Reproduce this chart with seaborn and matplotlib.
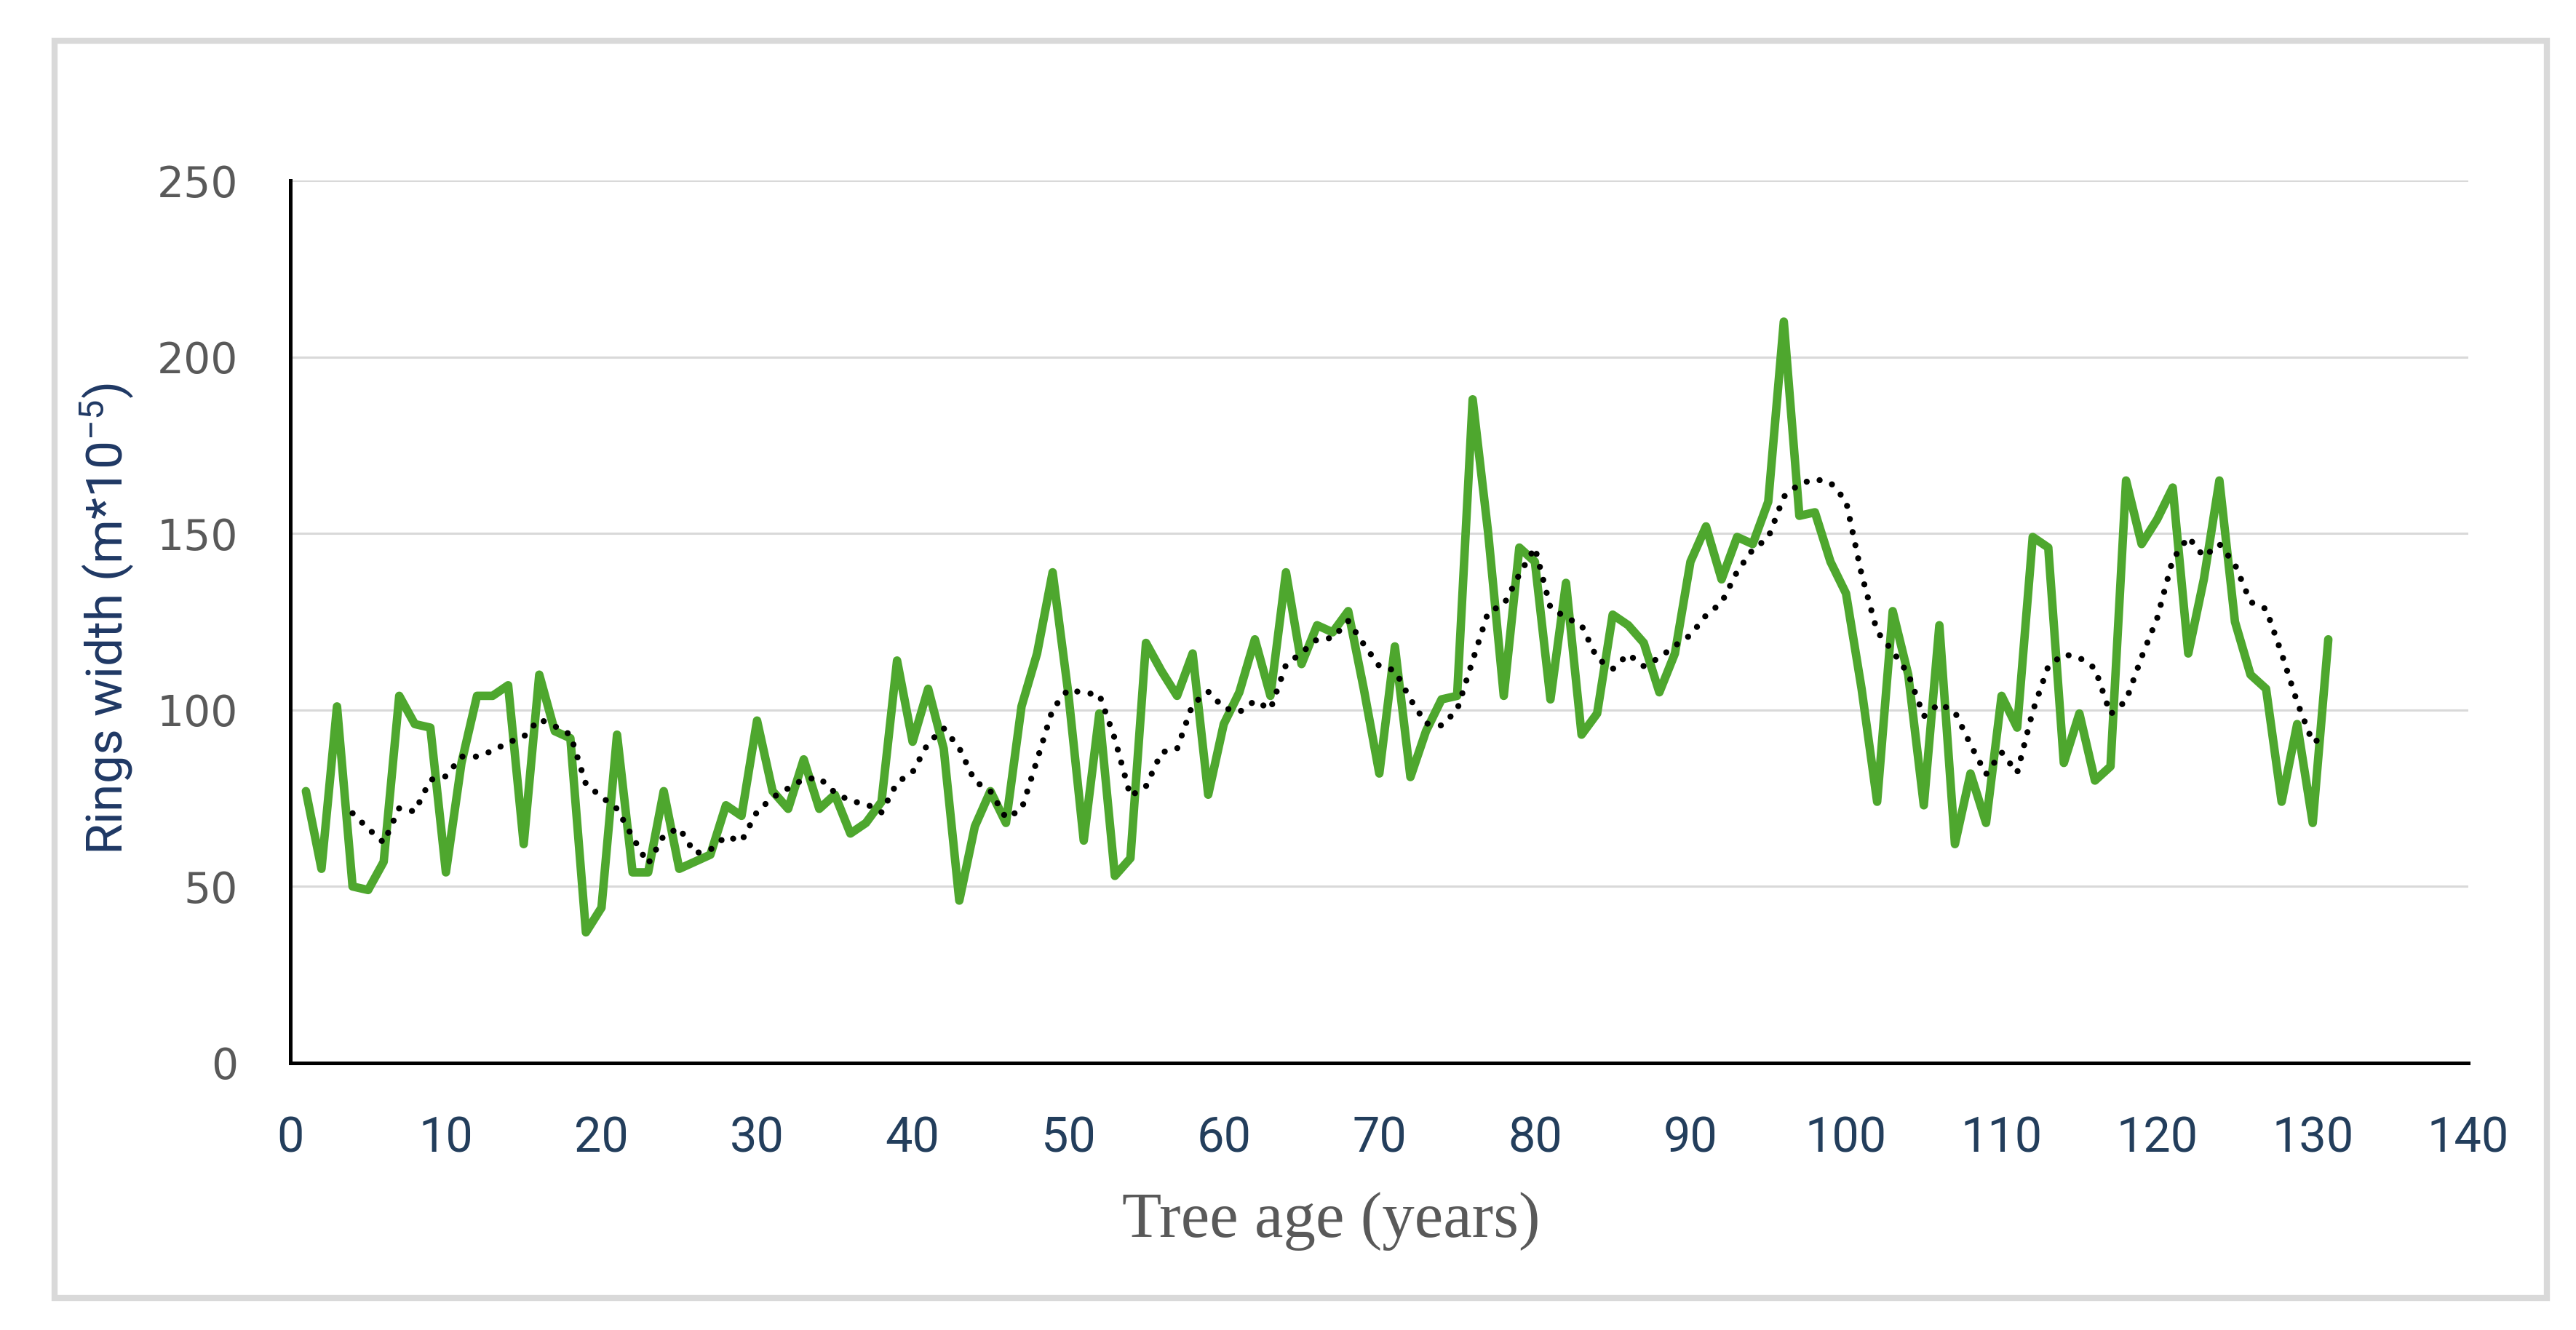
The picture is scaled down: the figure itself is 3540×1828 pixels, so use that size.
import matplotlib
matplotlib.use("Agg")
import matplotlib.pyplot as plt
import pandas as pd
import seaborn as sns
from matplotlib import font_manager
from matplotlib.patches import Rectangle

# ring widths (m*10^-5) read per year of tree age
ages = list(range(1, 132))
ring_width = [
    77, 55, 101, 50, 49, 57, 104, 96, 95, 54,
    85, 104, 104, 107, 62, 110, 94, 92, 37, 44,
    93, 54, 54, 77, 55, 57, 59, 73, 70, 97,
    77, 72, 86, 72, 76, 65, 68, 74, 114, 91,
    106, 89, 46, 67, 77, 68, 101, 116, 139, 105,
    63, 99, 53, 58, 119, 111, 104, 116, 76, 96,
    105, 120, 104, 139, 113, 124, 122, 128, 106, 82,
    118, 81, 94, 103, 104, 188, 150, 104, 146, 142,
    103, 136, 93, 99, 127, 124, 119, 105, 116, 142,
    152, 137, 149, 147, 159, 210, 155, 156, 142, 133,
    106, 74, 128, 110, 73, 124, 62, 82, 68, 104,
    95, 149, 146, 85, 99, 80, 84, 165, 147, 154,
    163, 116, 137, 165, 125, 110, 106, 74, 96, 68,
    120,
]
x_ticks = list(range(0, 141, 10))
y_ticks = [0, 50, 100, 150, 200, 250]

df = pd.DataFrame({"age": ages, "width": ring_width})
# trailing 5-year moving average, first point uses the 4 years available
df["trend"] = df["width"].rolling(5, min_periods=4).mean()

installed = {f.name for f in font_manager.fontManager.ttflist}
narrow = "Liberation Sans Narrow" if "Liberation Sans Narrow" in installed else "Roboto"

sns.set_theme(style="white")
plt.rcParams["mathtext.default"] = "regular"

W, H, DPI = 3541, 1828, 200
fig = plt.figure(figsize=(W / DPI, H / DPI), dpi=DPI)
ax = fig.add_axes([399 / W, 1 - 1461 / H, (3392 - 399) / W, (1461 - 248) / H])

sns.lineplot(data=df, x="age", y="width", ax=ax, color="#4ea72e", zorder=3)
sns.lineplot(data=df.dropna(), x="age", y="trend", ax=ax, color="black", zorder=4)
green, dotted = ax.lines[0], ax.lines[1]
green.set_linewidth(4.2)
green.set_solid_joinstyle("round")
green.set_solid_capstyle("round")
dotted.set_linewidth(3.0)
dotted.set_linestyle((0, (0.01, 2.2)))
dotted.set_dash_capstyle("round")

ax.set_xlim(0, 140)
ax.set_ylim(0, 250)
ax.set_xticks(x_ticks)
ax.set_yticks(y_ticks)

ax.yaxis.grid(True, color="#d9d9d9", lw=1.1)
ax.xaxis.grid(False)
ax.set_axisbelow(True)
for side in ["top", "right"]:
    ax.spines[side].set_visible(False)
for side in ["left", "bottom"]:
    ax.spines[side].set_color("black")
    ax.spines[side].set_linewidth(1.8)

ax.tick_params(axis="both", direction="in", length=9, width=1.8, color="black")
ax.tick_params(axis="y", labelsize=21, labelcolor="#595959", pad=26)
ax.tick_params(axis="x", labelsize=24, labelcolor="#233e5c", pad=26)
for lbl in ax.get_xticklabels():
    lbl.set_fontfamily([narrow, "DejaVu Sans"])

ax.set_xlabel("Tree age (years)", fontsize=32, color="#595959",
              family=["Liberation Serif", "DejaVu Serif"], va="center")
ax.xaxis.set_label_coords(0.478, -0.179)
ax.set_ylabel("Rings width (m*10$^{\u22125}$)", fontsize=25, color="#1f3864",
              family=[narrow, "DejaVu Sans"], va="center")
ax.yaxis.set_label_coords(-0.084, 0.503)

fig.patches.append(Rectangle((75 / W, 1 - 1784 / H), (3500 - 75) / W, (1784 - 56) / H,
                             transform=fig.transFigure, fill=False,
                             edgecolor="#d9d9d9", lw=3))

fig.savefig("out.png", dpi=DPI, facecolor="white")
